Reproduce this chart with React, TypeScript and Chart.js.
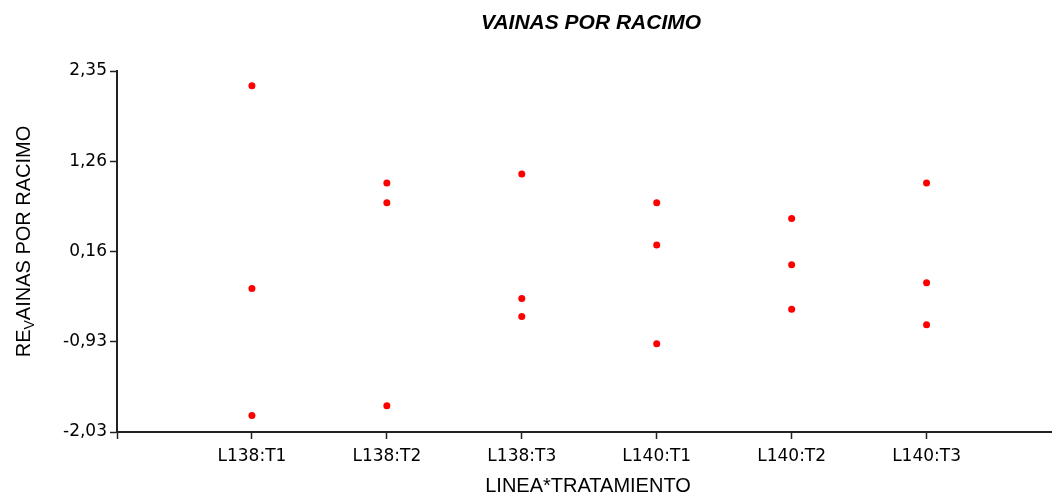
import React, { useEffect, useRef } from "react";
import { Chart, registerables } from "chart.js";

Chart.register(...registerables);

const categories = ["L138:T1", "L138:T2", "L138:T3", "L140:T1", "L140:T2", "L140:T3"];
const resL138T1 = [2.17, -0.29, -1.83];
const resL138T2 = [0.99, 0.75, -1.71];
const resL138T3 = [1.1, -0.41, -0.63];
const resL140T1 = [0.75, 0.24, -0.96];
const resL140T2 = [0.56, 0.0, -0.54];
const resL140T3 = [0.99, -0.22, -0.73];
const residuals = [resL138T1, resL138T2, resL138T3, resL140T1, resL140T2, resL140T3];

const yTickValues = [2.35, 1.255, 0.16, -0.935, -2.03];
const yTickLabels = ["2,35", "1,26", "0,16", "-0,93", "-2,03"];

const titleText = "VAINAS POR RACIMO";
const xTitle = "LINEA*TRATAMIENTO";
const yTitleParts = ["RE", "V", "AINAS POR RACIMO"];

const textPlugin = {
  id: "customText",
  afterDraw(chart: any) {
    const ctx = chart.ctx;
    const area = chart.chartArea;
    ctx.save();
    // continue the x-axis line to the right edge of the canvas
    ctx.strokeStyle = "#222";
    ctx.lineWidth = 2;
    ctx.beginPath();
    ctx.moveTo(area.right - 1, area.bottom);
    ctx.lineTo(chart.width, area.bottom);
    ctx.stroke();

    ctx.fillStyle = "#000";
    ctx.textAlign = "center";
    ctx.textBaseline = "middle";
    ctx.font = 'italic bold 21px "Liberation Sans", Arial, sans-serif';
    ctx.fillText(titleText, 591, 23);
    ctx.font = '20px "Liberation Sans", Arial, sans-serif';
    ctx.fillText(xTitle, 588, 486);

    // y title with subscript
    const big = '20px "Liberation Sans", Arial, sans-serif';
    const small = '14px "Liberation Sans", Arial, sans-serif';
    ctx.font = big;
    const w1 = ctx.measureText(yTitleParts[0]).width;
    const w3 = ctx.measureText(yTitleParts[2]).width;
    ctx.font = small;
    const w2 = ctx.measureText(yTitleParts[1]).width;
    const total = w1 + w2 + w3;
    ctx.translate(29.5, 241.5);
    ctx.rotate(-Math.PI / 2);
    ctx.textAlign = "left";
    ctx.textBaseline = "alphabetic";
    let x = -total / 2;
    ctx.font = big;
    ctx.fillText(yTitleParts[0], x, 0);
    x += w1;
    ctx.font = small;
    ctx.fillText(yTitleParts[1], x, 4);
    x += w2;
    ctx.font = big;
    ctx.fillText(yTitleParts[2], x, 0);
    ctx.restore();
  },
};

export default function App() {
  const ref = useRef<HTMLCanvasElement>(null);

  useEffect(() => {
    if (!ref.current) return;
    const points: { x: number; y: number }[] = [];
    residuals.forEach((vals, i) => {
      vals.forEach((v) => points.push({ x: i + 1, y: v }));
    });

    const chart = new Chart(ref.current, {
      type: "scatter",
      data: {
        datasets: [
          {
            data: points,
            backgroundColor: "#ff0000",
            borderColor: "#ff0000",
            borderWidth: 0,
            pointRadius: 3.5,
          },
        ],
      },
      options: {
        animation: false,
        responsive: false,
        maintainAspectRatio: false,
        layout: { padding: { top: 71, left: 0, right: 0, bottom: 0 } },
        plugins: {
          legend: { display: false },
          title: { display: false },
          tooltip: { enabled: false },
        },
        scales: {
          x: {
            type: "linear",
            min: 0,
            max: 6.9,
            afterBuildTicks: (scale: any) => {
              scale.ticks = [0, 1, 2, 3, 4, 5, 6].map((v) => ({ value: v }));
            },
            afterFit: (scale: any) => {
              scale.height = 62;
            },
            grid: {
              drawOnChartArea: false,
              drawTicks: true,
              tickLength: 7,
              tickWidth: 1.5,
              tickColor: "#222",
            },
            border: { display: true, color: "#222", width: 2 },
            ticks: {
              autoSkip: false,
              maxRotation: 0,
              padding: 7,
              color: "#000",
              font: { family: '"DejaVu Sans"', size: 17 },
              callback: (v: any) => (v >= 1 && v <= 6 ? categories[v - 1] : ""),
            },
          },
          y: {
            type: "linear",
            min: -2.03,
            max: 2.35,
            afterBuildTicks: (scale: any) => {
              scale.ticks = yTickValues.map((v) => ({ value: v }));
            },
            afterFit: (scale: any) => {
              scale.width = 117;
            },
            grid: {
              drawOnChartArea: false,
              drawTicks: true,
              tickLength: 7,
              tickWidth: 1.5,
              tickColor: "#222",
            },
            border: { display: true, color: "#222", width: 2 },
            ticks: {
              autoSkip: false,
              padding: 3,
              color: "#000",
              font: { family: '"DejaVu Sans"', size: 17 },
              callback: (_v: any, i: number) => yTickLabels[i],
            },
          },
        },
      },
      plugins: [textPlugin],
    });
    return () => chart.destroy();
  }, []);

  return (
    <div style={{ position: "fixed", left: 0, top: 0, width: 1052, height: 494, background: "#fff" }}>
      <canvas ref={ref} width={1052} height={494} style={{ display: "block", width: 1052, height: 494 }} />
    </div>
  );
}
